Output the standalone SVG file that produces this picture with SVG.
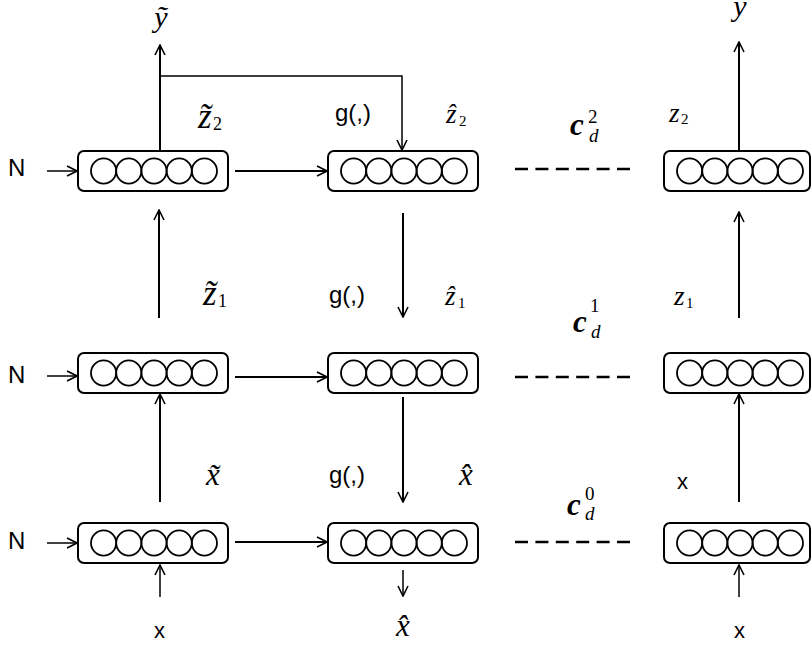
<svg xmlns="http://www.w3.org/2000/svg" width="811" height="645" viewBox="0 0 811 645">
<style>
.box{fill:none;stroke:#000;stroke-width:2}
.c{fill:none;stroke:#000;stroke-width:1.8}
.ln{fill:none;stroke:#000;stroke-width:2}
.thin{fill:none;stroke:#000;stroke-width:1.5}
.dash{fill:none;stroke:#000;stroke-width:2.6;stroke-dasharray:13 7.4}
.s{font-family:"Liberation Sans",Arial,sans-serif;fill:#000}
.m{font-family:"Liberation Serif","Times New Roman",serif;font-style:italic;fill:#000}
.mb{font-family:"Liberation Serif","Times New Roman",serif;font-style:italic;font-weight:bold;fill:#000}
.r{font-family:"Liberation Serif","Times New Roman",serif;font-style:normal;fill:#000}
</style>
<defs>
<marker id="ah" viewBox="0 0 12 12" refX="11" refY="6" markerWidth="12" markerHeight="12" markerUnits="userSpaceOnUse" orient="auto">
<path d="M1,1 L11,6 L1,11" fill="none" stroke="#000" stroke-width="1.6"/>
</marker>
<g id="circles">
<circle class="c" cx="25.6" cy="20" r="12.6"/>
<circle class="c" cx="50.8" cy="20" r="12.6"/>
<circle class="c" cx="76" cy="20" r="12.6"/>
<circle class="c" cx="101.2" cy="20" r="12.6"/>
<circle class="c" cx="126.4" cy="20" r="12.6"/>
</g>
</defs>

<g id="node-l1"><rect class="box" x="78" y="151" width="150" height="40" rx="6"/><use href="#circles" x="78" y="151"/></g>
<g id="node-m1"><rect class="box" x="328" y="151" width="150" height="40" rx="6"/><use href="#circles" x="328" y="151"/></g>
<g id="node-r1"><rect class="box" x="664" y="151" width="146" height="40" rx="6"/><use href="#circles" x="664" y="151"/></g>

<g id="node-l2"><rect class="box" x="78" y="353" width="150" height="40" rx="6"/><use href="#circles" x="78" y="353"/></g>
<g id="node-m2"><rect class="box" x="328" y="353" width="150" height="40" rx="6"/><use href="#circles" x="328" y="353"/></g>
<g id="node-r2"><rect class="box" x="664" y="353" width="146" height="40" rx="6"/><use href="#circles" x="664" y="353"/></g>

<g id="node-l3"><rect class="box" x="78" y="523" width="150" height="40" rx="6"/><use href="#circles" x="78" y="523"/></g>
<g id="node-m3"><rect class="box" x="328" y="523" width="150" height="40" rx="6"/><use href="#circles" x="328" y="523"/></g>
<g id="node-r3"><rect class="box" x="664" y="523" width="146" height="40" rx="6"/><use href="#circles" x="664" y="523"/></g>

<g id="connectors">
<line class="thin" x1="47" y1="171" x2="77" y2="171" marker-end="url(#ah)"/>
<line class="thin" x1="47" y1="376" x2="77" y2="376" marker-end="url(#ah)"/>
<line class="thin" x1="47" y1="543" x2="77" y2="543" marker-end="url(#ah)"/>
<line class="ln" x1="235" y1="171" x2="327" y2="171" marker-end="url(#ah)"/>
<line class="ln" x1="235" y1="377" x2="327" y2="377" marker-end="url(#ah)"/>
<line class="ln" x1="235" y1="542" x2="327" y2="542" marker-end="url(#ah)"/>
<line class="dash" x1="515" y1="169" x2="637" y2="169"/>
<line class="dash" x1="515" y1="377" x2="637" y2="377"/>
<line class="dash" x1="515" y1="542" x2="637" y2="542"/>
<line class="ln" x1="160" y1="151" x2="160" y2="45" marker-end="url(#ah)"/>
<polyline class="thin" points="160,76 402,76 402,150" marker-end="url(#ah)"/>
<line class="ln" x1="739" y1="151" x2="739" y2="42" marker-end="url(#ah)"/>
<line class="ln" x1="159" y1="318" x2="159" y2="210" marker-end="url(#ah)"/>
<line class="ln" x1="403" y1="213" x2="403" y2="317" marker-end="url(#ah)"/>
<line class="ln" x1="739" y1="318" x2="739" y2="212" marker-end="url(#ah)"/>
<line class="ln" x1="160" y1="502" x2="160" y2="394" marker-end="url(#ah)"/>
<line class="ln" x1="403" y1="397" x2="403" y2="502" marker-end="url(#ah)"/>
<line class="ln" x1="739" y1="502" x2="739" y2="394" marker-end="url(#ah)"/>
<line class="thin" x1="160" y1="597" x2="160" y2="565" marker-end="url(#ah)"/>
<line class="thin" x1="403" y1="570" x2="403" y2="596" marker-end="url(#ah)"/>
<line class="thin" x1="739" y1="597" x2="739" y2="565" marker-end="url(#ah)"/>
</g>

<g id="labels">
<text class="s" x="8" y="176" font-size="24">N</text>
<text class="s" x="8" y="383" font-size="24">N</text>
<text class="s" x="8" y="549" font-size="24">N</text>

<text class="m" x="161" y="27" font-size="30" text-anchor="middle">y&#x303;</text>
<text class="m" x="740" y="16" font-size="30" text-anchor="middle">y</text>

<text class="m" x="198" y="128" font-size="35">z&#x303;</text>
<text class="r" x="213" y="130" font-size="18">2</text>
<text class="s" x="335" y="121" font-size="24">g(,)</text>
<text class="m" x="446" y="123" font-size="27">z&#x302;</text>
<text class="r" x="459" y="126" font-size="15">2</text>
<text class="mb" x="570" y="135" font-size="31">c</text>
<text class="r" x="588" y="123" font-size="19">2</text>
<text class="m" x="589" y="142" font-size="19">d</text>
<text class="m" x="669" y="122" font-size="27">z</text>
<text class="r" x="681" y="124" font-size="15">2</text>

<text class="m" x="203" y="305" font-size="35">z&#x303;</text>
<text class="r" x="218" y="307" font-size="18">1</text>
<text class="s" x="329" y="303" font-size="24">g(,)</text>
<text class="m" x="445" y="305" font-size="27">z&#x302;</text>
<text class="r" x="458" y="308" font-size="15">1</text>
<text class="mb" x="573" y="332" font-size="31">c</text>
<text class="r" x="590" y="312" font-size="19">1</text>
<text class="m" x="591" y="338" font-size="19">d</text>
<text class="m" x="674" y="305" font-size="27">z</text>
<text class="r" x="686" y="308" font-size="15">1</text>

<text class="m" x="213" y="485" font-size="31" text-anchor="middle">x&#x303;</text>
<text class="s" x="329" y="483" font-size="24">g(,)</text>
<text class="m" x="466" y="485" font-size="31" text-anchor="middle">x&#x302;</text>
<text class="mb" x="567" y="515" font-size="31">c</text>
<text class="r" x="585" y="500" font-size="19">0</text>
<text class="m" x="585" y="520" font-size="19">d</text>
<text class="s" x="677" y="489" font-size="22">x</text>

<text class="s" x="154" y="638" font-size="22">x</text>
<text class="m" x="403" y="636" font-size="31" text-anchor="middle">x&#x302;</text>
<text class="s" x="734" y="638" font-size="22">x</text>
</g>
</svg>
